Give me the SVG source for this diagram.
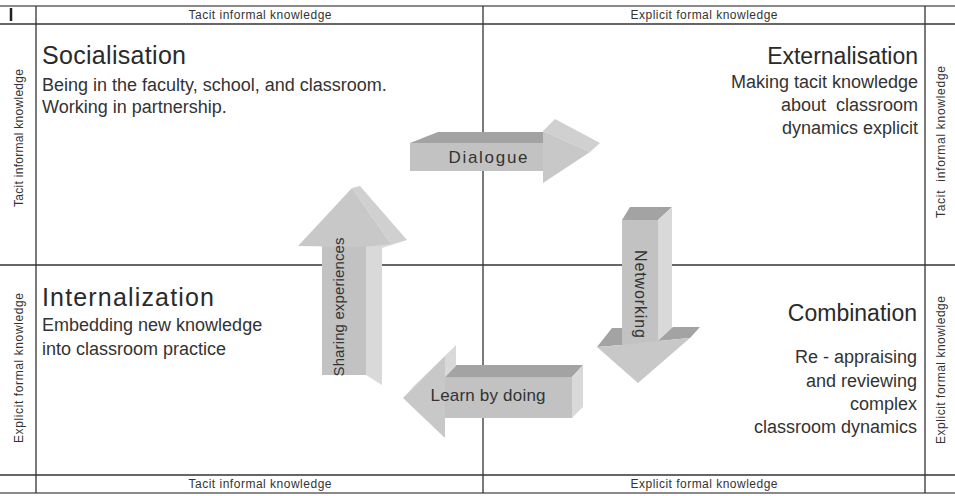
<svg xmlns="http://www.w3.org/2000/svg" width="955" height="496" viewBox="0 0 955 496">
<style>
.g{stroke:#333;stroke-width:1.3;fill:none}
.gb{stroke:#8a8a8a;stroke-width:2;fill:none}
.lab{font-family:"Liberation Sans",Arial,sans-serif;font-size:12px;fill:#333}
.ttl{font-family:"Liberation Sans",Arial,sans-serif;font-size:23px;fill:#2a2a2a}
.ttl2{font-family:"Liberation Sans",Arial,sans-serif;font-size:25px;fill:#2a2a2a}
.bd{font-family:"Liberation Sans",Arial,sans-serif;font-size:18px;fill:#333}
.at{font-family:"Liberation Sans",Arial,sans-serif;fill:#333}
.top{fill:#a3a3a3}
.frt{fill:#c2c2c2}
.hd{fill:#c8c8c8}
.sd{fill:#d9d9d9}
.bv{fill:#d0d0d0}
</style>
<rect width="955" height="496" fill="#fff"/>
<g id="grid">
<line class="gb" x1="0" y1="6" x2="955" y2="6"/>
<line class="g" x1="0" y1="24" x2="955" y2="24"/>
<line class="g" x1="0" y1="265" x2="955" y2="265"/>
<line class="g" x1="0" y1="475" x2="955" y2="475"/>
<line class="gb" x1="0" y1="493" x2="955" y2="493"/>
<line class="g" x1="36" y1="6" x2="36" y2="493"/>
<line class="g" x1="483" y1="6" x2="483" y2="493"/>
<line class="g" x1="925" y1="6" x2="925" y2="493"/>
<line x1="11" y1="8" x2="11" y2="21" stroke="#222" stroke-width="2.5"/>
</g>
<g id="axis-labels">
<text class="lab" x="260" y="19" text-anchor="middle" textLength="143">Tacit informal knowledge</text>
<text class="lab" x="704" y="19" text-anchor="middle" textLength="147">Explicit formal knowledge</text>
<text class="lab" x="260" y="488" text-anchor="middle" textLength="143">Tacit informal knowledge</text>
<text class="lab" x="704" y="488" text-anchor="middle" textLength="147">Explicit formal knowledge</text>
<text class="lab" transform="translate(23,138) rotate(-90)" text-anchor="middle" textLength="138">Tacit informal knowledge</text>
<text class="lab" transform="translate(23,368) rotate(-90)" text-anchor="middle" textLength="150">Explicit formal knowledge</text>
<text class="lab" transform="translate(945,142) rotate(-90)" text-anchor="middle" textLength="152" xml:space="preserve">Tacit  informal knowledge</text>
<text class="lab" transform="translate(945,370) rotate(-90)" text-anchor="middle" textLength="148">Explicit formal knowledge</text>
</g>
<g id="socialisation">
<text class="ttl2" x="42" y="64" textLength="144">Socialisation</text>
<text class="bd" x="42" y="91">Being in the faculty, school, and classroom.</text>
<text class="bd" x="42" y="113">Working in partnership.</text>
</g>
<g id="externalisation">
<text class="ttl" x="918" y="64" text-anchor="end">Externalisation</text>
<text class="bd" x="918" y="88" text-anchor="end">Making tacit knowledge</text>
<text class="bd" x="918" y="111" text-anchor="end" xml:space="preserve">about  classroom</text>
<text class="bd" x="918" y="134" text-anchor="end">dynamics explicit</text>
</g>
<g id="internalization">
<text class="ttl2" x="42" y="306" textLength="172">Internalization</text>
<text class="bd" x="42" y="331">Embedding new knowledge</text>
<text class="bd" x="42" y="355">into classroom practice</text>
</g>
<g id="combination">
<text class="ttl" x="917" y="321" text-anchor="end">Combination</text>
<text class="bd" x="917" y="363" text-anchor="end">Re - appraising</text>
<text class="bd" x="917" y="387" text-anchor="end">and reviewing</text>
<text class="bd" x="917" y="410" text-anchor="end">complex</text>
<text class="bd" x="917" y="433" text-anchor="end">classroom dynamics</text>
</g>
<g id="connectors">
<g id="dialogue">
<polygon class="top" points="410,143 438,132 543,132 543,143"/>
<rect class="frt" x="410" y="143" width="133" height="28"/>
<polygon class="bv" points="543,131 555,119 600,143 590,152"/>
<polygon class="hd" points="543,131 590,152 543,183"/>
<text class="at" x="488" y="163" font-size="17" text-anchor="middle" textLength="79">Dialogue</text>
</g>
<g id="networking">
<polygon class="top" points="622,220 630,207 672,207 658,220" fill="#9e9e9e"/>
<polygon class="sd" points="658,220 672,207 672,330 658,342"/>
<rect class="frt" x="622" y="220" width="36" height="126"/>
<polygon class="top" points="597,347 612,328 622,328 622,345"/>
<polygon class="top" points="658,341 673,327 700,327 690,338"/>
<polygon class="hd" points="597,347 622,345 658,341 690,338 638,383"/>
<text class="at" transform="translate(635,294) rotate(90)" font-size="16" text-anchor="middle" textLength="88">Networking</text>
</g>
<g id="learn-by-doing">
<polygon class="top" points="445,377 456,365 583,365 572,377"/>
<polygon class="sd" points="572,377 583,365 583,407 572,418"/>
<rect class="frt" x="445" y="377" width="127" height="41"/>
<polygon class="sd" points="445,356 456,345 456,366 445,377"/>
<polygon class="bv" points="403,398 414,386 456,345 445,356"/>
<polygon class="hd" points="445,356 403,398 445,438"/>
<text class="at" x="488" y="401" font-size="17" text-anchor="middle" textLength="115">Learn by doing</text>
</g>
<g id="sharing-experiences">
<polygon class="sd" points="366,247 407,240 382,248 382,385 366,375"/>
<rect class="frt" x="322" y="246" width="44" height="129"/>
<polygon class="bv" points="352,188 360,186 407,240 391,244"/>
<polygon class="hd" points="298,246 352,188 391,244 366,247"/>
<text class="at" transform="translate(344,307) rotate(-90)" font-size="15" text-anchor="middle" textLength="139">Sharing experiences</text>
</g>
</g>
</svg>
